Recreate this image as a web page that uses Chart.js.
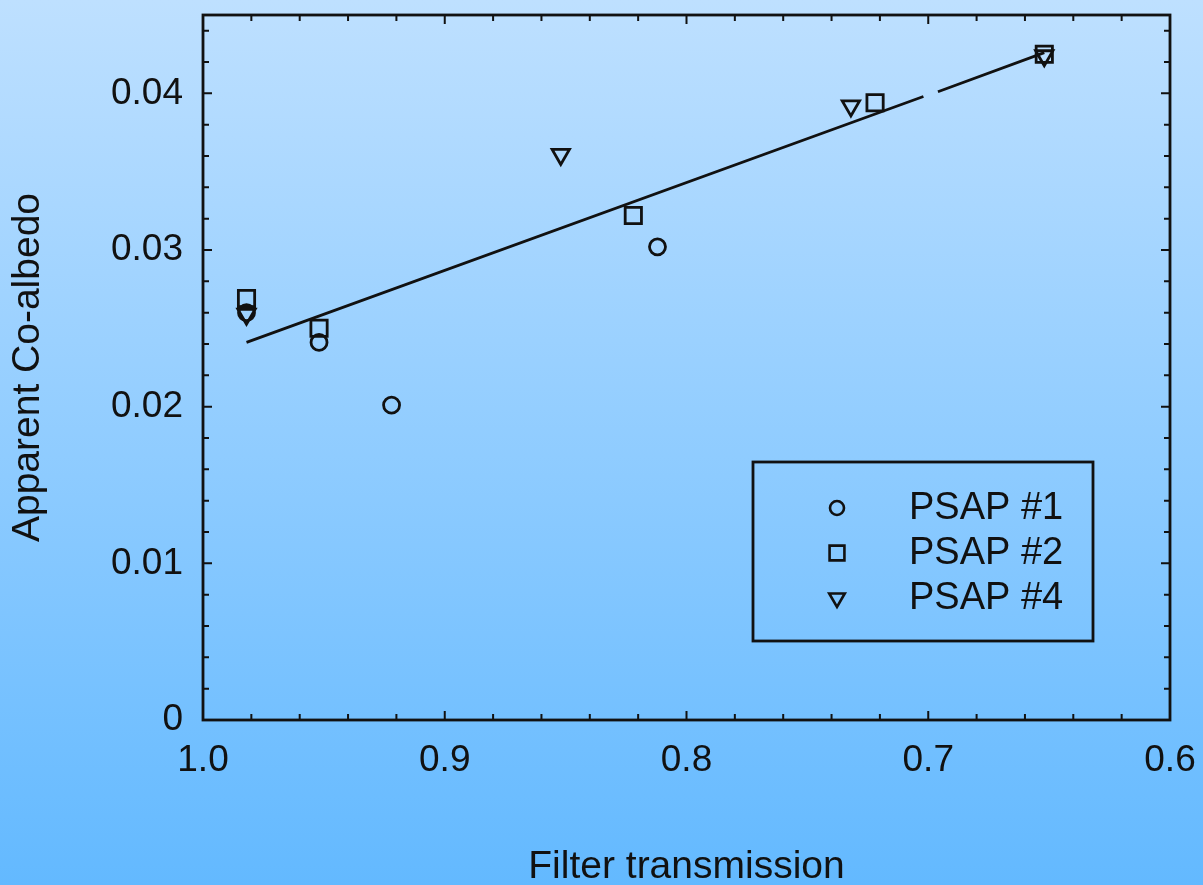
<!DOCTYPE html>
<html>
<head>
<meta charset="utf-8">
<script src="https://cdn.jsdelivr.net/npm/chart.js@4.4.0/dist/chart.umd.min.js"></script>
<style>
  html, body { margin: 0; padding: 0; }
  body { width: 1203px; height: 885px; background: linear-gradient(to bottom, #bee0ff, #63b9ff); overflow: hidden; }
</style>
</head>
<body>
<canvas id="chart" width="1203" height="885"></canvas>
<script>
// tick labels
const xTicks = [1.0, 0.9, 0.8, 0.7, 0.6];
const yTicks = [0, 0.01, 0.02, 0.03, 0.04];

const psap1X = [0.982, 0.952, 0.922, 0.812];
const psap1Y = [0.0260, 0.0241, 0.0201, 0.0302];
const psap2X = [0.982, 0.952, 0.822, 0.722, 0.652];
const psap2Y = [0.0269, 0.0250, 0.0322, 0.0394, 0.0425];
const psap4X = [0.982, 0.852, 0.732, 0.652];
const psap4Y = [0.0259, 0.0361, 0.0392, 0.0424];

// fitted line (has a small break near 0.7)
const fitX = [0.982, 0.702, 0.699, 0.696, 0.652];
const fitY = [0.0241, 0.0398, null, 0.0401, 0.0426];

const FONT = "'Liberation Sans', Arial, Helvetica, sans-serif";
const INK = '#111';

function pts(xs, ys) {
    return xs.map((x, i) => ({ x: x, y: ys[i] }));
}

function marker(ctx, style, x, y, r) {
    ctx.beginPath();
    if (style === 'circle') {
        ctx.arc(x, y, r, 0, Math.PI * 2);
    } else if (style === 'rect') {
        const s = r * Math.SQRT1_2;
        ctx.rect(x - s, y - s, 2 * s, 2 * s);
    } else {
        ctx.moveTo(x - r * 0.866, y - r * 0.5);
        ctx.lineTo(x + r * 0.866, y - r * 0.5);
        ctx.lineTo(x, y + r);
        ctx.closePath();
    }
    ctx.stroke();
}

// box round the plot with inward ticks on all four sides
const framePlugin = {
    id: 'frame',
    afterDraw(chart) {
        const ctx = chart.ctx;
        const a = chart.chartArea;
        const xs = chart.scales.x;
        const ys = chart.scales.y;
        ctx.save();
        ctx.strokeStyle = INK;
        ctx.lineWidth = 2.8;
        ctx.strokeRect(a.left, a.top, a.right - a.left, a.bottom - a.top);
        ctx.lineWidth = 2;
        ctx.beginPath();
        for (let i = 0; i <= 20; i++) {
            const px = xs.getPixelForValue(0.6 + i * 0.02);
            const len = i % 5 === 0 ? 9 : 6;
            ctx.moveTo(px, a.bottom); ctx.lineTo(px, a.bottom - len);
            ctx.moveTo(px, a.top); ctx.lineTo(px, a.top + len);
        }
        for (let i = 0; i <= 22; i++) {
            const py = ys.getPixelForValue(i * 0.002);
            const len = i % 5 === 0 ? 9 : 6;
            ctx.moveTo(a.left, py); ctx.lineTo(a.left + len, py);
            ctx.moveTo(a.right, py); ctx.lineTo(a.right - len, py);
        }
        ctx.stroke();
        ctx.restore();
    }
};

const legendPlugin = {
    id: 'boxLegend',
    afterDraw(chart) {
        const ctx = chart.ctx;
        const box = { left: 753, top: 462, right: 1093, bottom: 641 };
        const rows = [508, 553, 598];
        const sizes = { circle: 7, rect: 10.5, triangle: 9 };
        ctx.save();
        ctx.strokeStyle = INK;
        ctx.lineWidth = 2.8;
        ctx.strokeRect(box.left, box.top, box.right - box.left, box.bottom - box.top);
        ctx.font = '38px ' + FONT;
        ctx.fillStyle = INK;
        ctx.textBaseline = 'middle';
        chart.data.datasets.filter(d => d.pointStyle !== false).forEach((d, i) => {
            ctx.lineWidth = 2.6;
            marker(ctx, d.pointStyle, 837, rows[i], sizes[d.pointStyle]);
            ctx.fillText(d.label, 909, rows[i] + 1);
        });
        ctx.restore();
    }
};

new Chart(document.getElementById('chart'), {
    type: 'scatter',
    data: {
        datasets: [
            {
                label: 'PSAP #1',
                data: pts(psap1X, psap1Y),
                pointStyle: 'circle',
                pointRadius: 8,
                borderColor: INK,
                backgroundColor: 'rgba(0,0,0,0)',
                pointBorderWidth: 2.8
            },
            {
                label: 'PSAP #2',
                data: pts(psap2X, psap2Y),
                pointStyle: 'rect',
                pointRadius: 11.5,
                borderColor: INK,
                backgroundColor: 'rgba(0,0,0,0)',
                pointBorderWidth: 2.8
            },
            {
                label: 'PSAP #4',
                data: pts(psap4X, psap4Y),
                pointStyle: 'triangle',
                rotation: 180,
                pointRadius: 10,
                borderColor: INK,
                backgroundColor: 'rgba(0,0,0,0)',
                pointBorderWidth: 2.8
            },
            {
                type: 'line',
                label: 'fit',
                data: pts(fitX, fitY),
                pointStyle: false,
                pointRadius: 0,
                borderColor: INK,
                borderWidth: 2.8,
                spanGaps: false,
                fill: false
            }
        ]
    },
    options: {
        responsive: false,
        animation: false,
        layout: { padding: { left: 0, top: 15, right: 33, bottom: 0 } },
        plugins: {
            legend: { display: false },
            tooltip: { enabled: false }
        },
        scales: {
            x: {
                type: 'linear',
                min: 0.6,
                max: 1.0,
                reverse: true,
                afterBuildTicks: s => { s.ticks = xTicks.map(v => ({ value: v })); },
                afterFit: s => {
                    s.height = 165;
                    s.paddingLeft = 0;
                    s.paddingRight = 0;
                },
                grid: { display: false, drawTicks: false },
                border: { display: false },
                ticks: {
                    padding: 19,
                    color: INK,
                    font: { family: FONT, size: 37 },
                    callback: v => v.toFixed(1)
                },
                title: {
                    display: true,
                    text: 'Filter transmission',
                    color: INK,
                    font: { family: FONT, size: 39, lineHeight: 1 },
                    padding: { top: 0, bottom: -2 }
                }
            },
            y: {
                type: 'linear',
                min: 0,
                max: 0.045,
                afterBuildTicks: s => { s.ticks = yTicks.map(v => ({ value: v })); },
                afterFit: s => {
                    s.width = 203;
                    s.paddingTop = 0;
                    s.paddingBottom = 0;
                },
                grid: { display: false, drawTicks: false },
                border: { display: false },
                ticks: {
                    padding: 20,
                    color: INK,
                    font: { family: FONT, size: 37 },
                    callback: v => (v === 0 ? '0' : v.toFixed(2))
                },
                title: {
                    display: true,
                    text: 'Apparent Co-albedo',
                    color: INK,
                    font: { family: FONT, size: 39, lineHeight: 1 },
                    padding: { top: 9, bottom: 0 }
                }
            }
        }
    },
    plugins: [framePlugin, legendPlugin]
});
</script>
</body>
</html>
